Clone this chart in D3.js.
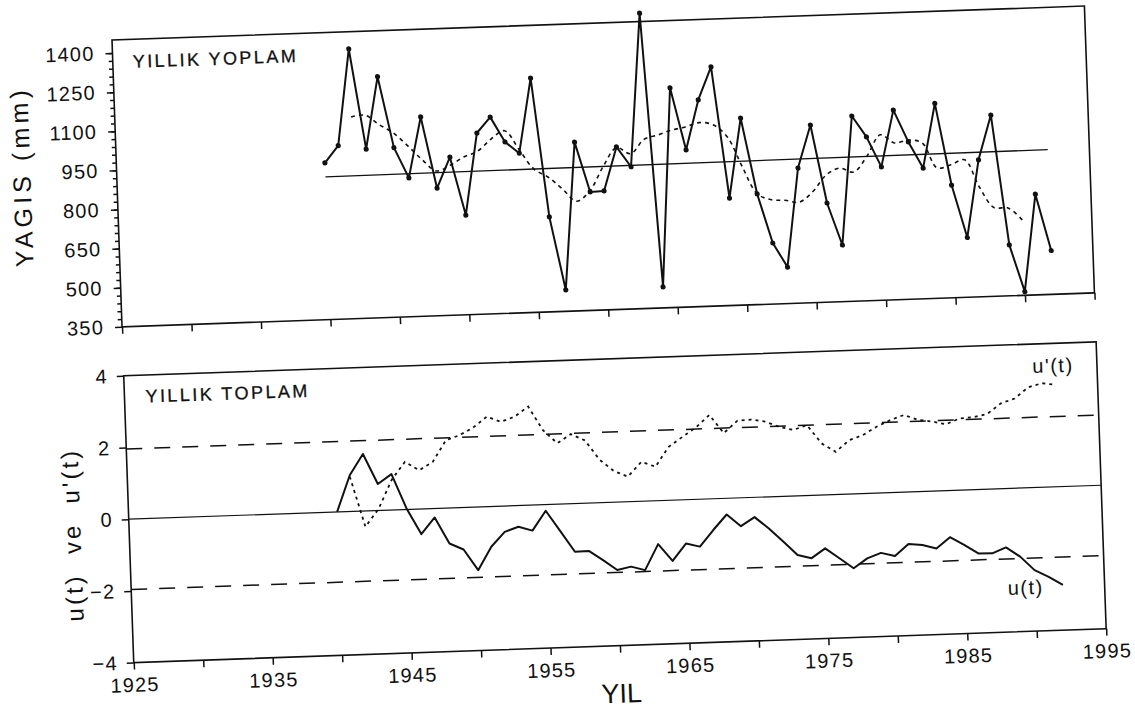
<!DOCTYPE html>
<html>
<head>
<meta charset="utf-8">
<script src="https://cdn.jsdelivr.net/npm/d3@7"></script>
<style>
  body { margin: 0; background: #fff; }
  text { font-family: "Liberation Sans", Arial, sans-serif; fill: #111; }
</style>
</head>
<body>
<svg id="chart"></svg>
<script>
// yearly totals (mm), 1940-1992
const years = d3.range(1940, 1993);
const rain = [951, 1015, 1384, 998, 1274, 1000, 882, 1114, 839, 956,
              732, 1045, 1104, 1007, 962, 1248, 714, 432, 997, 804,
              806, 973, 895, 1482, 431, 1192, 952, 1142, 1267, 762,
              1067, 774, 584, 490, 868, 1031, 730, 567, 1060, 978,
              861, 1077, 953, 851, 1097, 782, 579, 875, 1045, 545,
              364, 736, 518];

// smoothed curve (dashed), 1942-1990
const smoothYears = d3.range(1942, 1991);
const smooth = [1123, 1128, 1090, 1056, 1005, 950, 905, 925, 955, 975,
                1020, 1050, 975, 900, 867, 820, 770, 810, 900, 970,
                945, 998, 1013, 1030, 1040, 1055, 1045, 996, 880, 775,
                750, 746, 737, 775, 837, 862, 845, 905, 984, 951,
                960, 947, 850, 860, 877, 770, 690, 687, 639];

// linear trend
const trendYears = [1940, 1992];
const trend = [897, 905];

// sequential statistics
const uYears = d3.range(1940, 1993);
const u = [0, 1.01, 1.59, 0.74, 1.0, 0.03, -0.70, -0.25, -0.99, -1.17,
           -1.76, -1.12, -0.72, -0.59, -0.71, -0.17, -0.75, -1.34, -1.33, -1.60,
           -1.89, -1.81, -1.92, -1.21, -1.69, -1.22, -1.32, -0.87, -0.45, -0.79,
           -0.55, -0.88, -1.26, -1.65, -1.75, -1.49, -1.78, -2.07, -1.81, -1.67,
           -1.77, -1.45, -1.49, -1.60, -1.30, -1.53, -1.78, -1.79, -1.64, -1.91,
           -2.30, -2.50, -2.74];
const upYears = d3.range(1941, 1993);
const uPrime = [0.97, -0.44, 0.05, 0.84, 1.33, 1.08, 1.30, 1.89, 2.02, 2.22,
                2.51, 2.35, 2.48, 2.75, 2.08, 1.70, 1.94, 1.75, 1.20, 0.87,
                0.70, 1.10, 0.95, 1.49, 1.75, 2.00, 2.34, 1.82, 2.15, 2.17,
                2.10, 1.94, 1.84, 1.96, 1.44, 1.19, 1.50, 1.63, 1.85, 2.02,
                2.15, 2.00, 1.94, 1.85, 2.00, 2.02, 2.10, 2.38, 2.50, 2.80,
                2.90, 2.84];
const confLevels = [1.96, -1.96];

// ticks
const xTicks = [1925, 1930, 1935, 1940, 1945, 1950, 1955, 1960, 1965, 1970, 1975, 1980, 1985, 1990, 1995];
const yTopTicks = [350, 500, 650, 800, 950, 1100, 1250, 1400];
const yTopMinor = d3.range(380, 1430, 30);
const yBotTicks = [-4, -2, 0, 2, 4];

const svg = d3.select("#chart").attr("width", 1135).attr("height", 713);
svg.append("rect").attr("width", 1135).attr("height", 713).attr("fill", "#fff");

// the scan is tilted a bit, so the whole drawing is rotated
const root = svg.append("g").attr("transform", "translate(112,40) rotate(-2)");

const pw = 973, ph = 287, botTop = 336;
const x = d3.scaleLinear().domain([1925, 1995]).range([0, pw]);
const yTop = d3.scaleLinear().domain([350, 1450]).range([ph, 0]);
const yBot = d3.scaleLinear().domain([-4, 4]).range([ph, 0]);

const ink = "#111";

function styleAxis(sel) {
  sel.select(".domain").remove();
  sel.selectAll("line").attr("stroke", ink).attr("stroke-width", 1.5);
  sel.selectAll("text")
    .attr("font-family", "'Liberation Sans', Arial, sans-serif")
    .attr("font-size", 20)
    .attr("letter-spacing", 1.2)
    .attr("fill", ink);
}

// ---------- top panel ----------
const topG = root.append("g");

topG.append("g")
  .call(d3.axisLeft(yTop).tickValues(yTopMinor).tickSize(4).tickFormat(""))
  .call(styleAxis);
topG.append("g")
  .call(d3.axisLeft(yTop).tickValues(yTopTicks).tickSize(7).tickPadding(11).tickFormat(d3.format("d")))
  .call(styleAxis);
topG.append("g")
  .attr("transform", `translate(0,${ph})`)
  .call(d3.axisBottom(x).tickValues(xTicks).tickSize(7).tickFormat(""))
  .call(styleAxis);

topG.append("rect")
  .attr("width", pw).attr("height", ph)
  .attr("fill", "none").attr("stroke", ink).attr("stroke-width", 1.6);

const trendLine = d3.line().x(d => x(d[0])).y(d => yTop(d[1]));
topG.append("path")
  .attr("d", trendLine(trendYears.map((yr, i) => [yr, trend[i]])))
  .attr("fill", "none").attr("stroke", ink).attr("stroke-width", 1.3);

topG.append("path")
  .attr("d", d3.line().curve(d3.curveCatmullRom)
    .x(d => x(d[0])).y(d => yTop(d[1]))(smoothYears.map((yr, i) => [yr, smooth[i]])))
  .attr("fill", "none").attr("stroke", ink).attr("stroke-width", 1.6)
  .attr("stroke-dasharray", "4,4");

const rainPts = years.map((yr, i) => [yr, rain[i]]);
topG.append("path")
  .attr("d", d3.line().x(d => x(d[0])).y(d => yTop(d[1]))(rainPts))
  .attr("fill", "none").attr("stroke", ink).attr("stroke-width", 2)
  .attr("stroke-linejoin", "round");
topG.selectAll("circle.pt").data(rainPts).enter().append("circle")
  .attr("class", "pt")
  .attr("cx", d => x(d[0])).attr("cy", d => yTop(d[1])).attr("r", 2.6)
  .attr("fill", ink);

topG.append("text")
  .attr("x", 20).attr("y", 28.5)
  .attr("font-size", 18).attr("textLength", 163).attr("lengthAdjust", "spacing")
  .attr("stroke", ink).attr("stroke-width", 0.3)
  .text("YILLIK YOPLAM");

topG.append("text")
  .attr("transform", `translate(-95,${ph / 2 - 8}) rotate(-90)`)
  .attr("text-anchor", "middle").attr("dy", "0.35em")
  .attr("font-size", 25).attr("textLength", 177).attr("lengthAdjust", "spacing")
  .text("YAGIS (mm)");

// ---------- bottom panel ----------
const botG = root.append("g").attr("transform", `translate(0,${botTop})`);

botG.append("g")
  .call(d3.axisLeft(yBot).tickValues(yBotTicks).tickSize(7).tickPadding(9).tickFormat(d3.format("d")))
  .call(styleAxis);
botG.append("g")
  .attr("transform", `translate(0,${ph})`)
  .call(d3.axisBottom(x).tickValues(xTicks).tickSize(7).tickPadding(8)
    .tickFormat(d => d % 10 === 5 ? d : ""))
  .call(styleAxis);

botG.append("rect")
  .attr("width", pw).attr("height", ph)
  .attr("fill", "none").attr("stroke", ink).attr("stroke-width", 1.6);

botG.append("line")
  .attr("x1", 0).attr("x2", pw).attr("y1", yBot(0)).attr("y2", yBot(0))
  .attr("stroke", ink).attr("stroke-width", 1.2);

botG.selectAll("line.conf").data(confLevels).enter().append("line")
  .attr("class", "conf")
  .attr("x1", 0).attr("x2", pw)
  .attr("y1", d => yBot(d)).attr("y2", d => yBot(d))
  .attr("stroke", ink).attr("stroke-width", 1.5)
  .attr("stroke-dasharray", "16,12");

const uLine = d3.line().x(d => x(d[0])).y(d => yBot(d[1]));
botG.append("path")
  .attr("d", uLine(upYears.map((yr, i) => [yr, uPrime[i]])))
  .attr("fill", "none").attr("stroke", ink).attr("stroke-width", 1.8)
  .attr("stroke-dasharray", "3,4");
botG.append("path")
  .attr("d", uLine(uYears.map((yr, i) => [yr, u[i]])))
  .attr("fill", "none").attr("stroke", ink).attr("stroke-width", 2)
  .attr("stroke-linejoin", "round");

botG.append("text")
  .attr("x", 21).attr("y", 27.5)
  .attr("font-size", 18).attr("textLength", 162).attr("lengthAdjust", "spacing")
  .attr("stroke", ink).attr("stroke-width", 0.3)
  .text("YILLIK TOPLAM");

botG.append("text")
  .attr("x", 929).attr("y", 29).attr("text-anchor", "middle")
  .attr("font-size", 20).attr("letter-spacing", 1.5)
  .text("u'(t)");
botG.append("text")
  .attr("x", 894).attr("y", 250).attr("text-anchor", "middle")
  .attr("font-size", 20).attr("letter-spacing", 1.5)
  .text("u(t)");

botG.append("text")
  .attr("transform", `translate(-57,157) rotate(-90)`)
  .attr("text-anchor", "middle").attr("dy", "0.35em")
  .attr("font-size", 24).attr("letter-spacing", 3)
  .style("white-space", "pre")
  .text("u(t)  ve  u'(t)");

botG.append("text")
  .attr("x", x(1960)).attr("y", 344).attr("text-anchor", "middle")
  .attr("font-size", 27)
  .text("YIL");
</script>
</body>
</html>
